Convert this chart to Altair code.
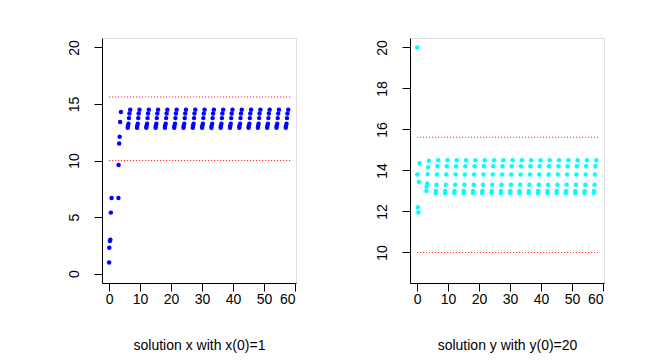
import altair as alt
import pandas as pd

# ---- data ----
cluster_starts = [0, 3, 6, 9, 12, 15, 18, 21, 24, 27, 30, 33, 36, 39, 42, 45, 48, 51, 54, 57]
step_offsets = [0.0, 0.05, 0.25, 0.4, 0.55, 0.8]

x_first = [1.0, 2.3, 2.9, 3.0, 5.4, 6.7]
x_second = [6.7, 9.6, 11.5, 12.1, 13.4, 14.3]
x_cycle = [12.9, 13.05, 13.25, 13.75, 14.15, 14.5]

y_first = [20.0, 13.8, 12.2, 11.95, 13.45, 14.35]
y_second = [13.0, 13.2, 13.36, 13.82, 14.15, 14.47]
y_cycle = [12.9, 13.0, 13.3, 13.8, 14.2, 14.5]

bound_levels = [10.0, 15.62]
bound_span = [0.0, 58.4]

x_ticks = [0, 10, 20, 30, 40, 50, 60]
y_ticks_left = [0, 5, 10, 15, 20]
y_ticks_right = [10, 12, 14, 16, 18, 20]


def build(first, second, cycle):
    rows = []
    for k, start in enumerate(cluster_starts):
        vals = first if k == 0 else (second if k == 1 else cycle)
        for off, v in zip(step_offsets, vals):
            rows.append({"t": start + off, "v": v})
    return pd.DataFrame(rows)


df_x = build(x_first, x_second, x_cycle)
df_y = build(y_first, y_second, y_cycle)
df_bounds = pd.DataFrame({"t": [bound_span[0]] * 2, "t2": [bound_span[1]] * 2, "v": bound_levels})

FONT = "Liberation Sans"
FS = 14
W, H = 194, 245
X_DOMAIN = [-2.3, 60.3]


def panel(df, color, title, ydomain, yticks):
    xax = alt.Axis(values=x_ticks, title=title, tickSize=8, labelPadding=8, grid=False,
                   labelFont=FONT, labelFontSize=FS, labelColor="black",
                   labelBaseline="middle",
                   tickColor="black", domainColor="black",
                   titleFont=FONT, titleFontSize=FS, titleFontWeight="normal",
                   titleColor="black", titleY=62, titleBaseline="middle")
    yax = alt.Axis(values=yticks, title=None, tickSize=8, labelPadding=20, grid=False,
                   labelAngle=270, labelAlign="center", labelBaseline="middle",
                   labelFont=FONT, labelFontSize=FS, labelColor="black",
                   tickColor="black", domainColor="black")
    xs = alt.Scale(domain=X_DOMAIN, nice=False, zero=False)
    ys = alt.Scale(domain=ydomain, nice=False, zero=False)
    pts = alt.Chart(df).mark_circle(size=20, opacity=1, color=color).encode(
        x=alt.X("t:Q", scale=xs, axis=xax),
        y=alt.Y("v:Q", scale=ys, axis=yax),
    )
    rules = alt.Chart(df_bounds).mark_rule(color="red", strokeDash=[1, 2], strokeWidth=1).encode(
        x=alt.X("t:Q", scale=xs, axis=xax),
        x2="t2:Q",
        y=alt.Y("v:Q", scale=ys, axis=yax),
    )
    return alt.layer(rules, pts).properties(width=W, height=H)


left = panel(df_x, "#0000FF", "solution x with x(0)=1", [-0.82, 20.83], y_ticks_left)
right = panel(df_y, "#00FFFF", "solution y with y(0)=20", [8.51, 20.46], y_ticks_right)

chart = alt.hconcat(left, right, spacing=114, bounds="flush").properties(
    padding={"left": 58, "top": 29, "right": 5, "bottom": 5}
).configure_view(stroke="black", strokeWidth=1).configure(background="white")

chart.save("out.html", embed_options={"renderer": "svg", "actions": False})
